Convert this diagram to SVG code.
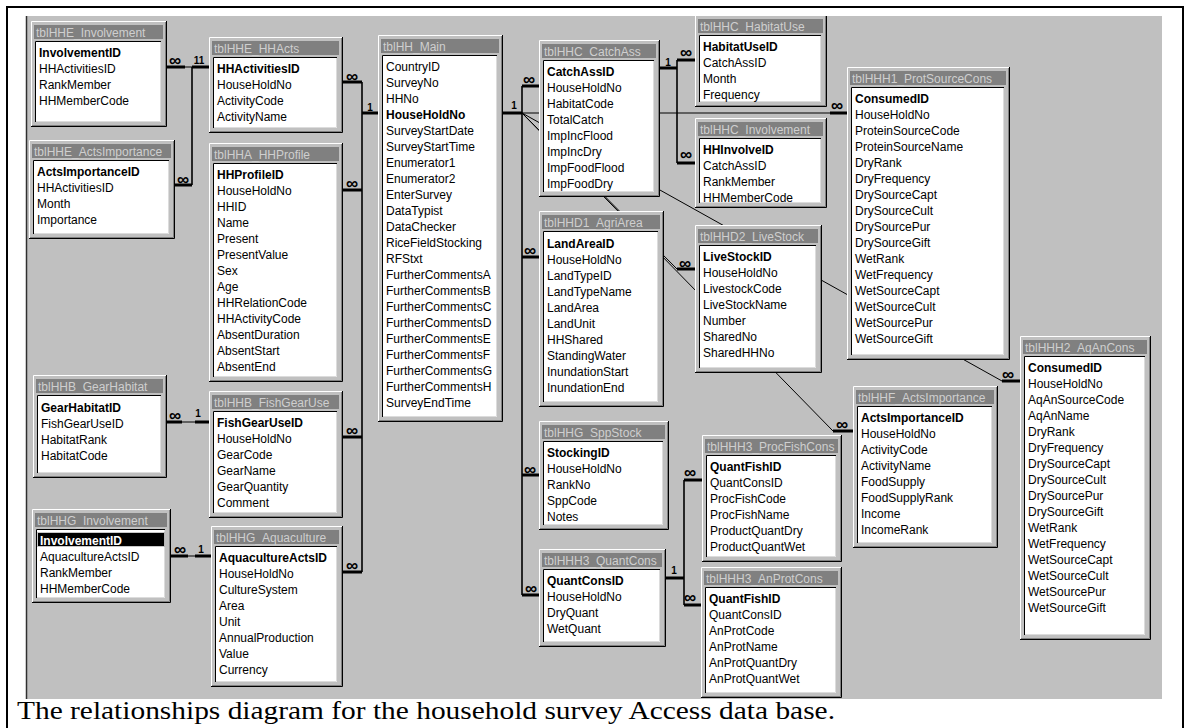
<svg xmlns="http://www.w3.org/2000/svg" width="1189" height="728" viewBox="0 0 1189 728">
<style>
.fr{fill:#c0c0c0}
.hi{fill:none;stroke:#ffffff;stroke-width:1}
.sh{fill:none;stroke:#000000;stroke-width:1}
.sh2{fill:none;stroke:#808080;stroke-width:1}
.tb{fill:#808080}
.tt{font-family:"Liberation Sans",Arial,sans-serif;font-size:12px;fill:#cfcfcf}
.bx{fill:#ffffff}
.bxd{fill:none;stroke:#000000;stroke-width:1}
.bxl{fill:none;stroke:#dcdcdc;stroke-width:1}
.r{font-family:"Liberation Sans",Arial,sans-serif;font-size:12px;fill:#000000}
.b{font-weight:bold}
.stub{stroke:#000;stroke-width:3;fill:none}
.ln{stroke:#000;stroke-width:1;fill:none}
.bus{stroke:#000;stroke-width:1.6;fill:none}
.inf{font-family:"Liberation Sans","DejaVu Sans",sans-serif;font-weight:bold;font-size:17px;fill:#000;text-anchor:middle;dominant-baseline:central}
.one{font-family:"Liberation Sans","DejaVu Sans",sans-serif;font-weight:bold;font-size:10px;fill:#000;text-anchor:middle;dominant-baseline:central}
.cap{font-family:"Liberation Serif","Times New Roman",serif;font-size:26px;fill:#000}
</style>
<defs>
<clipPath id="cg"><rect x="27" y="16" width="1135" height="683"/></clipPath>
</defs>
<rect x="0" y="0" width="1189" height="728" fill="#ffffff"/>
<path d="M7,728V7H1183V728" fill="none" stroke="#000" stroke-width="2"/>
<rect x="26" y="16" width="1136" height="683" fill="#c0c0c0"/>
<path d="M26.5,16V699" stroke="#303030" stroke-width="1.5"/>

<g id="diagram" clip-path="url(#cg)">
<g id="connectors">
 <!-- HHE_Involvement / ActsImportance - HHActs -->
 <path class="stub" d="M167,67H185M192,67H209M175,185H192"/>
 <path class="ln" d="M185,67H192"/>
 <path class="bus" d="M192,67V185"/>
 <text class="inf" x="175" y="60">∞</text>
 <text class="one" x="199" y="60">11</text>
 <text class="inf" x="183" y="179">∞</text>
 <!-- Main left bus -->
 <path class="bus" d="M362,82V572"/>
 <path class="stub" d="M343,82H362M343,190H362M343,437H362M343,572H362M362,113H378"/>
 <text class="inf" x="352" y="76">∞</text>
 <text class="inf" x="352" y="183">∞</text>
 <text class="inf" x="352" y="430">∞</text>
 <text class="inf" x="352" y="565">∞</text>
 <text class="one" x="370" y="107">1</text>
 <!-- Main right bus -->
 <path class="bus" d="M522,86V595"/>
 <path class="stub" d="M503,113H522M522,86H539M522,257H539M522,475H539M522,595H539"/>
 <text class="one" x="514" y="105">1</text>
 <text class="inf" x="529" y="79">∞</text>
 <text class="inf" x="530" y="250">∞</text>
 <text class="inf" x="530" y="469">∞</text>
 <text class="inf" x="531" y="588">∞</text>
 <path class="ln" d="M522,113H830M522,113L1002,381M522,113L677,269M522,113L833,431"/>
 <path class="stub" d="M830,113H847M1002,381H1020M677,269H695M833,431H853"/>
 <text class="inf" x="837" y="105">∞</text>
 <text class="inf" x="1008" y="374">∞</text>
 <text class="inf" x="685" y="263">∞</text>
 <text class="inf" x="842" y="424">∞</text>
 <!-- CatchAss -->
 <path class="bus" d="M677,60V163"/>
 <path class="stub" d="M660,68H677M677,60H695M677,163H695"/>
 <text class="one" x="668" y="62">1</text>
 <text class="inf" x="686" y="52">∞</text>
 <text class="inf" x="686" y="154">∞</text>
 <!-- QuantCons -->
 <path class="bus" d="M684,480V605"/>
 <path class="stub" d="M666,578H684M684,480H702M684,605H701"/>
 <text class="one" x="674" y="570">1</text>
 <text class="inf" x="690" y="472">∞</text>
 <text class="inf" x="690" y="597">∞</text>
 <!-- GearHabitat - FishGearUse -->
 <path class="stub" d="M167,422H182M195,422H209"/>
 <path class="ln" d="M182,422H195"/>
 <text class="inf" x="175" y="415">∞</text>
 <text class="one" x="198" y="413">1</text>
 <!-- HHG_Involvement - Aquaculture -->
 <path class="stub" d="M171,556H188M195,556H211"/>
 <path class="ln" d="M188,556H195"/>
 <text class="inf" x="180" y="549">∞</text>
 <text class="one" x="201" y="549">1</text>
</g>

<g id="tblHHE_Involvement" transform="translate(31,21)">
<rect class="fr" width="136" height="106"/>
<path class="hi" d="M0.5,105V0.5H135"/><path class="sh2" d="M1,104.5H134.5V1"/><path class="sh" d="M0,105.5H135.5V0"/>
<rect class="tb" x="3" y="4" width="129" height="14"/>
<text class="tt" x="5" y="15.5">tblHHE_Involvement</text>
<rect class="bx" x="4" y="20" width="126" height="81"/>
<path class="bxd" d="M4.5,101V20.5H130"/><path class="bxl" d="M5,100.5H129.5V21"/>
<text class="r" y="36"><tspan x="8" class="b">InvolvementID</tspan><tspan x="8" dy="16">HHActivitiesID</tspan><tspan x="8" dy="16">RankMember</tspan><tspan x="8" dy="16">HHMemberCode</tspan></text>
</g>

<g id="tblHHE_ActsImportance" transform="translate(29,140)">
<rect class="fr" width="146" height="99"/>
<path class="hi" d="M0.5,98V0.5H145"/><path class="sh2" d="M1,97.5H144.5V1"/><path class="sh" d="M0,98.5H145.5V0"/>
<rect class="tb" x="3" y="4" width="139" height="14"/>
<text class="tt" x="5" y="15.5">tblHHE_ActsImportance</text>
<rect class="bx" x="4" y="20" width="136" height="74"/>
<path class="bxd" d="M4.5,94V20.5H140"/><path class="bxl" d="M5,93.5H139.5V21"/>
<text class="r" y="36"><tspan x="8" class="b">ActsImportanceID</tspan><tspan x="8" dy="16">HHActivitiesID</tspan><tspan x="8" dy="16">Month</tspan><tspan x="8" dy="16">Importance</tspan></text>
</g>

<g id="tblHHE_HHActs" transform="translate(209,37)">
<rect class="fr" width="134" height="96"/>
<path class="hi" d="M0.5,95V0.5H133"/><path class="sh2" d="M1,94.5H132.5V1"/><path class="sh" d="M0,95.5H133.5V0"/>
<rect class="tb" x="3" y="4" width="127" height="14"/>
<text class="tt" x="5" y="15.5">tblHHE_HHActs</text>
<rect class="bx" x="4" y="20" width="124" height="71"/>
<path class="bxd" d="M4.5,91V20.5H128"/><path class="bxl" d="M5,90.5H127.5V21"/>
<text class="r" y="36"><tspan x="8" class="b">HHActivitiesID</tspan><tspan x="8" dy="16">HouseHoldNo</tspan><tspan x="8" dy="16">ActivityCode</tspan><tspan x="8" dy="16">ActivityName</tspan></text>
</g>

<g id="tblHHA_HHProfile" transform="translate(209,143)">
<rect class="fr" width="134" height="239"/>
<path class="hi" d="M0.5,238V0.5H133"/><path class="sh2" d="M1,237.5H132.5V1"/><path class="sh" d="M0,238.5H133.5V0"/>
<rect class="tb" x="3" y="4" width="127" height="14"/>
<text class="tt" x="5" y="15.5">tblHHA_HHProfile</text>
<rect class="bx" x="4" y="20" width="124" height="214"/>
<path class="bxd" d="M4.5,234V20.5H128"/><path class="bxl" d="M5,233.5H127.5V21"/>
<text class="r" y="36"><tspan x="8" class="b">HHProfileID</tspan><tspan x="8" dy="16">HouseHoldNo</tspan><tspan x="8" dy="16">HHID</tspan><tspan x="8" dy="16">Name</tspan><tspan x="8" dy="16">Present</tspan><tspan x="8" dy="16">PresentValue</tspan><tspan x="8" dy="16">Sex</tspan><tspan x="8" dy="16">Age</tspan><tspan x="8" dy="16">HHRelationCode</tspan><tspan x="8" dy="16">HHActivityCode</tspan><tspan x="8" dy="16">AbsentDuration</tspan><tspan x="8" dy="16">AbsentStart</tspan><tspan x="8" dy="16">AbsentEnd</tspan></text>
</g>

<g id="tblHH_Main" transform="translate(378,35)">
<rect class="fr" width="125" height="387"/>
<path class="hi" d="M0.5,386V0.5H124"/><path class="sh2" d="M1,385.5H123.5V1"/><path class="sh" d="M0,386.5H124.5V0"/>
<rect class="tb" x="3" y="4" width="118" height="14"/>
<text class="tt" x="5" y="15.5">tblHH_Main</text>
<rect class="bx" x="4" y="20" width="115" height="362"/>
<path class="bxd" d="M4.5,382V20.5H119"/><path class="bxl" d="M5,381.5H118.5V21"/>
<text class="r" y="36"><tspan x="8">CountryID</tspan><tspan x="8" dy="16">SurveyNo</tspan><tspan x="8" dy="16">HHNo</tspan><tspan x="8" dy="16" class="b">HouseHoldNo</tspan><tspan x="8" dy="16">SurveyStartDate</tspan><tspan x="8" dy="16">SurveyStartTime</tspan><tspan x="8" dy="16">Enumerator1</tspan><tspan x="8" dy="16">Enumerator2</tspan><tspan x="8" dy="16">EnterSurvey</tspan><tspan x="8" dy="16">DataTypist</tspan><tspan x="8" dy="16">DataChecker</tspan><tspan x="8" dy="16">RiceFieldStocking</tspan><tspan x="8" dy="16">RFStxt</tspan><tspan x="8" dy="16">FurtherCommentsA</tspan><tspan x="8" dy="16">FurtherCommentsB</tspan><tspan x="8" dy="16">FurtherCommentsC</tspan><tspan x="8" dy="16">FurtherCommentsD</tspan><tspan x="8" dy="16">FurtherCommentsE</tspan><tspan x="8" dy="16">FurtherCommentsF</tspan><tspan x="8" dy="16">FurtherCommentsG</tspan><tspan x="8" dy="16">FurtherCommentsH</tspan><tspan x="8" dy="16">SurveyEndTime</tspan></text>
</g>

<g id="tblHHB_GearHabitat" transform="translate(33,375)">
<rect class="fr" width="134" height="103"/>
<path class="hi" d="M0.5,102V0.5H133"/><path class="sh2" d="M1,101.5H132.5V1"/><path class="sh" d="M0,102.5H133.5V0"/>
<rect class="tb" x="3" y="4" width="127" height="14"/>
<text class="tt" x="5" y="15.5">tblHHB_GearHabitat</text>
<rect class="bx" x="4" y="20" width="124" height="78"/>
<path class="bxd" d="M4.5,98V20.5H128"/><path class="bxl" d="M5,97.5H127.5V21"/>
<text class="r" y="37"><tspan x="8" class="b">GearHabitatID</tspan><tspan x="8" dy="16">FishGearUseID</tspan><tspan x="8" dy="16">HabitatRank</tspan><tspan x="8" dy="16">HabitatCode</tspan></text>
</g>

<g id="tblHHB_FishGearUse" transform="translate(209,391)">
<rect class="fr" width="134" height="127"/>
<path class="hi" d="M0.5,126V0.5H133"/><path class="sh2" d="M1,125.5H132.5V1"/><path class="sh" d="M0,126.5H133.5V0"/>
<rect class="tb" x="3" y="4" width="127" height="14"/>
<text class="tt" x="5" y="15.5">tblHHB_FishGearUse</text>
<rect class="bx" x="4" y="20" width="124" height="102"/>
<path class="bxd" d="M4.5,122V20.5H128"/><path class="bxl" d="M5,121.5H127.5V21"/>
<text class="r" y="36"><tspan x="8" class="b">FishGearUseID</tspan><tspan x="8" dy="16">HouseHoldNo</tspan><tspan x="8" dy="16">GearCode</tspan><tspan x="8" dy="16">GearName</tspan><tspan x="8" dy="16">GearQuantity</tspan><tspan x="8" dy="16">Comment</tspan></text>
</g>

<g id="tblHHG_Involvement" transform="translate(32,509)">
<rect class="fr" width="139" height="94"/>
<path class="hi" d="M0.5,93V0.5H138"/><path class="sh2" d="M1,92.5H137.5V1"/><path class="sh" d="M0,93.5H138.5V0"/>
<rect class="tb" x="3" y="4" width="132" height="14"/>
<text class="tt" x="5" y="15.5">tblHHG_Involvement</text>
<rect class="bx" x="4" y="20" width="129" height="69"/>
<path class="bxd" d="M4.5,89V20.5H133"/><path class="bxl" d="M5,88.5H132.5V21"/>
<rect x="6" y="24" width="126" height="13" fill="#000"/>
<rect x="5.5" y="23.5" width="127" height="14" fill="none" stroke="#909090" stroke-dasharray="1 1"/>
<text class="r" y="36"><tspan x="8" class="b" fill="#ffffff">InvolvementID</tspan><tspan x="8" dy="16">AquacultureActsID</tspan><tspan x="8" dy="16">RankMember</tspan><tspan x="8" dy="16">HHMemberCode</tspan></text>
</g>

<g id="tblHHG_Aquaculture" transform="translate(211,526)">
<rect class="fr" width="132" height="161"/>
<path class="hi" d="M0.5,160V0.5H131"/><path class="sh2" d="M1,159.5H130.5V1"/><path class="sh" d="M0,160.5H131.5V0"/>
<rect class="tb" x="3" y="4" width="125" height="14"/>
<text class="tt" x="5" y="15.5">tblHHG_Aquaculture</text>
<rect class="bx" x="4" y="20" width="122" height="136"/>
<path class="bxd" d="M4.5,156V20.5H126"/><path class="bxl" d="M5,155.5H125.5V21"/>
<text class="r" y="36"><tspan x="8" class="b">AquacultureActsID</tspan><tspan x="8" dy="16">HouseHoldNo</tspan><tspan x="8" dy="16">CultureSystem</tspan><tspan x="8" dy="16">Area</tspan><tspan x="8" dy="16">Unit</tspan><tspan x="8" dy="16">AnnualProduction</tspan><tspan x="8" dy="16">Value</tspan><tspan x="8" dy="16">Currency</tspan></text>
</g>

<g id="tblHHC_CatchAss" transform="translate(539,40)">
<rect class="fr" width="121" height="157"/>
<path class="hi" d="M0.5,156V0.5H120"/><path class="sh2" d="M1,155.5H119.5V1"/><path class="sh" d="M0,156.5H120.5V0"/>
<rect class="tb" x="3" y="4" width="114" height="14"/>
<text class="tt" x="5" y="15.5">tblHHC_CatchAss</text>
<rect class="bx" x="4" y="20" width="111" height="132"/>
<path class="bxd" d="M4.5,152V20.5H115"/><path class="bxl" d="M5,151.5H114.5V21"/>
<text class="r" y="36"><tspan x="8" class="b">CatchAssID</tspan><tspan x="8" dy="16">HouseHoldNo</tspan><tspan x="8" dy="16">HabitatCode</tspan><tspan x="8" dy="16">TotalCatch</tspan><tspan x="8" dy="16">ImpIncFlood</tspan><tspan x="8" dy="16">ImpIncDry</tspan><tspan x="8" dy="16">ImpFoodFlood</tspan><tspan x="8" dy="16">ImpFoodDry</tspan></text>
</g>

<g id="tblHHC_HabitatUse" transform="translate(695,15)">
<rect class="fr" width="132" height="92"/>
<path class="hi" d="M0.5,91V0.5H131"/><path class="sh2" d="M1,90.5H130.5V1"/><path class="sh" d="M0,91.5H131.5V0"/>
<rect class="tb" x="3" y="4" width="125" height="14"/>
<text class="tt" x="5" y="15.5">tblHHC_HabitatUse</text>
<rect class="bx" x="4" y="20" width="122" height="67"/>
<path class="bxd" d="M4.5,87V20.5H126"/><path class="bxl" d="M5,86.5H125.5V21"/>
<text class="r" y="36"><tspan x="8" class="b">HabitatUseID</tspan><tspan x="8" dy="16">CatchAssID</tspan><tspan x="8" dy="16">Month</tspan><tspan x="8" dy="16">Frequency</tspan></text>
</g>

<g id="tblHHC_Involvement" transform="translate(695,118)">
<rect class="fr" width="132" height="90"/>
<path class="hi" d="M0.5,89V0.5H131"/><path class="sh2" d="M1,88.5H130.5V1"/><path class="sh" d="M0,89.5H131.5V0"/>
<rect class="tb" x="3" y="4" width="125" height="14"/>
<text class="tt" x="5" y="15.5">tblHHC_Involvement</text>
<rect class="bx" x="4" y="20" width="122" height="65"/>
<path class="bxd" d="M4.5,85V20.5H126"/><path class="bxl" d="M5,84.5H125.5V21"/>
<text class="r" y="36"><tspan x="8" class="b">HHInvolveID</tspan><tspan x="8" dy="16">CatchAssID</tspan><tspan x="8" dy="16">RankMember</tspan><tspan x="8" dy="16">HHMemberCode</tspan></text>
</g>

<g id="tblHHH1_ProtSourceCons" transform="translate(847,67)">
<rect class="fr" width="163" height="293"/>
<path class="hi" d="M0.5,292V0.5H162"/><path class="sh2" d="M1,291.5H161.5V1"/><path class="sh" d="M0,292.5H162.5V0"/>
<rect class="tb" x="3" y="4" width="156" height="14"/>
<text class="tt" x="5" y="15.5">tblHHH1_ProtSourceCons</text>
<rect class="bx" x="4" y="20" width="153" height="268"/>
<path class="bxd" d="M4.5,288V20.5H157"/><path class="bxl" d="M5,287.5H156.5V21"/>
<text class="r" y="36"><tspan x="8" class="b">ConsumedID</tspan><tspan x="8" dy="16">HouseHoldNo</tspan><tspan x="8" dy="16">ProteinSourceCode</tspan><tspan x="8" dy="16">ProteinSourceName</tspan><tspan x="8" dy="16">DryRank</tspan><tspan x="8" dy="16">DryFrequency</tspan><tspan x="8" dy="16">DrySourceCapt</tspan><tspan x="8" dy="16">DrySourceCult</tspan><tspan x="8" dy="16">DrySourcePur</tspan><tspan x="8" dy="16">DrySourceGift</tspan><tspan x="8" dy="16">WetRank</tspan><tspan x="8" dy="16">WetFrequency</tspan><tspan x="8" dy="16">WetSourceCapt</tspan><tspan x="8" dy="16">WetSourceCult</tspan><tspan x="8" dy="16">WetSourcePur</tspan><tspan x="8" dy="16">WetSourceGift</tspan></text>
</g>

<g id="tblHHD1_AgriArea" transform="translate(539,211)">
<rect class="fr" width="125" height="196"/>
<path class="hi" d="M0.5,195V0.5H124"/><path class="sh2" d="M1,194.5H123.5V1"/><path class="sh" d="M0,195.5H124.5V0"/>
<rect class="tb" x="3" y="4" width="118" height="14"/>
<text class="tt" x="5" y="15.5">tblHHD1_AgriArea</text>
<rect class="bx" x="4" y="20" width="115" height="171"/>
<path class="bxd" d="M4.5,191V20.5H119"/><path class="bxl" d="M5,190.5H118.5V21"/>
<text class="r" y="37"><tspan x="8" class="b">LandAreaID</tspan><tspan x="8" dy="16">HouseHoldNo</tspan><tspan x="8" dy="16">LandTypeID</tspan><tspan x="8" dy="16">LandTypeName</tspan><tspan x="8" dy="16">LandArea</tspan><tspan x="8" dy="16">LandUnit</tspan><tspan x="8" dy="16">HHShared</tspan><tspan x="8" dy="16">StandingWater</tspan><tspan x="8" dy="16">InundationStart</tspan><tspan x="8" dy="16">InundationEnd</tspan></text>
</g>

<g id="tblHHD2_LiveStock" transform="translate(695,225)">
<rect class="fr" width="127" height="148"/>
<path class="hi" d="M0.5,147V0.5H126"/><path class="sh2" d="M1,146.5H125.5V1"/><path class="sh" d="M0,147.5H126.5V0"/>
<rect class="tb" x="3" y="4" width="120" height="14"/>
<text class="tt" x="5" y="15.5">tblHHD2_LiveStock</text>
<rect class="bx" x="4" y="20" width="117" height="123"/>
<path class="bxd" d="M4.5,143V20.5H121"/><path class="bxl" d="M5,142.5H120.5V21"/>
<text class="r" y="36"><tspan x="8" class="b">LiveStockID</tspan><tspan x="8" dy="16">HouseHoldNo</tspan><tspan x="8" dy="16">LivestockCode</tspan><tspan x="8" dy="16">LiveStockName</tspan><tspan x="8" dy="16">Number</tspan><tspan x="8" dy="16">SharedNo</tspan><tspan x="8" dy="16">SharedHHNo</tspan></text>
</g>

<g id="tblHHG_SppStock" transform="translate(539,421)">
<rect class="fr" width="130" height="109"/>
<path class="hi" d="M0.5,108V0.5H129"/><path class="sh2" d="M1,107.5H128.5V1"/><path class="sh" d="M0,108.5H129.5V0"/>
<rect class="tb" x="3" y="4" width="123" height="14"/>
<text class="tt" x="5" y="15.5">tblHHG_SppStock</text>
<rect class="bx" x="4" y="20" width="120" height="84"/>
<path class="bxd" d="M4.5,104V20.5H124"/><path class="bxl" d="M5,103.5H123.5V21"/>
<text class="r" y="36"><tspan x="8" class="b">StockingID</tspan><tspan x="8" dy="16">HouseHoldNo</tspan><tspan x="8" dy="16">RankNo</tspan><tspan x="8" dy="16">SppCode</tspan><tspan x="8" dy="16">Notes</tspan></text>
</g>

<g id="tblHHH3_QuantCons" transform="translate(539,549)">
<rect class="fr" width="127" height="98"/>
<path class="hi" d="M0.5,97V0.5H126"/><path class="sh2" d="M1,96.5H125.5V1"/><path class="sh" d="M0,97.5H126.5V0"/>
<rect class="tb" x="3" y="4" width="120" height="14"/>
<text class="tt" x="5" y="15.5">tblHHH3_QuantCons</text>
<rect class="bx" x="4" y="20" width="117" height="73"/>
<path class="bxd" d="M4.5,93V20.5H121"/><path class="bxl" d="M5,92.5H120.5V21"/>
<text class="r" y="36"><tspan x="8" class="b">QuantConsID</tspan><tspan x="8" dy="16">HouseHoldNo</tspan><tspan x="8" dy="16">DryQuant</tspan><tspan x="8" dy="16">WetQuant</tspan></text>
</g>

<g id="tblHHH3_ProcFishCons" transform="translate(702,435)">
<rect class="fr" width="140" height="127"/>
<path class="hi" d="M0.5,126V0.5H139"/><path class="sh2" d="M1,125.5H138.5V1"/><path class="sh" d="M0,126.5H139.5V0"/>
<rect class="tb" x="3" y="4" width="133" height="14"/>
<text class="tt" x="5" y="15.5">tblHHH3_ProcFishCons</text>
<rect class="bx" x="4" y="20" width="130" height="102"/>
<path class="bxd" d="M4.5,122V20.5H134"/><path class="bxl" d="M5,121.5H133.5V21"/>
<text class="r" y="36"><tspan x="8" class="b">QuantFishID</tspan><tspan x="8" dy="16">QuantConsID</tspan><tspan x="8" dy="16">ProcFishCode</tspan><tspan x="8" dy="16">ProcFishName</tspan><tspan x="8" dy="16">ProductQuantDry</tspan><tspan x="8" dy="16">ProductQuantWet</tspan></text>
</g>

<g id="tblHHH3_AnProtCons" transform="translate(701,567)">
<rect class="fr" width="141" height="131"/>
<path class="hi" d="M0.5,130V0.5H140"/><path class="sh2" d="M1,129.5H139.5V1"/><path class="sh" d="M0,130.5H140.5V0"/>
<rect class="tb" x="3" y="4" width="134" height="14"/>
<text class="tt" x="5" y="15.5">tblHHH3_AnProtCons</text>
<rect class="bx" x="4" y="20" width="131" height="106"/>
<path class="bxd" d="M4.5,126V20.5H135"/><path class="bxl" d="M5,125.5H134.5V21"/>
<text class="r" y="36"><tspan x="8" class="b">QuantFishID</tspan><tspan x="8" dy="16">QuantConsID</tspan><tspan x="8" dy="16">AnProtCode</tspan><tspan x="8" dy="16">AnProtName</tspan><tspan x="8" dy="16">AnProtQuantDry</tspan><tspan x="8" dy="16">AnProtQuantWet</tspan></text>
</g>

<g id="tblHHF_ActsImportance" transform="translate(853,386)">
<rect class="fr" width="145" height="162"/>
<path class="hi" d="M0.5,161V0.5H144"/><path class="sh2" d="M1,160.5H143.5V1"/><path class="sh" d="M0,161.5H144.5V0"/>
<rect class="tb" x="3" y="4" width="138" height="14"/>
<text class="tt" x="5" y="15.5">tblHHF_ActsImportance</text>
<rect class="bx" x="4" y="20" width="135" height="137"/>
<path class="bxd" d="M4.5,157V20.5H139"/><path class="bxl" d="M5,156.5H138.5V21"/>
<text class="r" y="36"><tspan x="8" class="b">ActsImportanceID</tspan><tspan x="8" dy="16">HouseHoldNo</tspan><tspan x="8" dy="16">ActivityCode</tspan><tspan x="8" dy="16">ActivityName</tspan><tspan x="8" dy="16">FoodSupply</tspan><tspan x="8" dy="16">FoodSupplyRank</tspan><tspan x="8" dy="16">Income</tspan><tspan x="8" dy="16">IncomeRank</tspan></text>
</g>

<g id="tblHHH2_AqAnCons" transform="translate(1020,336)">
<rect class="fr" width="131" height="304"/>
<path class="hi" d="M0.5,303V0.5H130"/><path class="sh2" d="M1,302.5H129.5V1"/><path class="sh" d="M0,303.5H130.5V0"/>
<rect class="tb" x="3" y="4" width="124" height="14"/>
<text class="tt" x="5" y="15.5">tblHHH2_AqAnCons</text>
<rect class="bx" x="4" y="20" width="121" height="279"/>
<path class="bxd" d="M4.5,299V20.5H125"/><path class="bxl" d="M5,298.5H124.5V21"/>
<text class="r" y="36"><tspan x="8" class="b">ConsumedID</tspan><tspan x="8" dy="16">HouseHoldNo</tspan><tspan x="8" dy="16">AqAnSourceCode</tspan><tspan x="8" dy="16">AqAnName</tspan><tspan x="8" dy="16">DryRank</tspan><tspan x="8" dy="16">DryFrequency</tspan><tspan x="8" dy="16">DrySourceCapt</tspan><tspan x="8" dy="16">DrySourceCult</tspan><tspan x="8" dy="16">DrySourcePur</tspan><tspan x="8" dy="16">DrySourceGift</tspan><tspan x="8" dy="16">WetRank</tspan><tspan x="8" dy="16">WetFrequency</tspan><tspan x="8" dy="16">WetSourceCapt</tspan><tspan x="8" dy="16">WetSourceCult</tspan><tspan x="8" dy="16">WetSourcePur</tspan><tspan x="8" dy="16">WetSourceGift</tspan></text>
</g>
</g>

<text class="cap" x="17" y="719" textLength="818" lengthAdjust="spacingAndGlyphs">The relationships diagram for the household survey Access data base.</text>
</svg>
